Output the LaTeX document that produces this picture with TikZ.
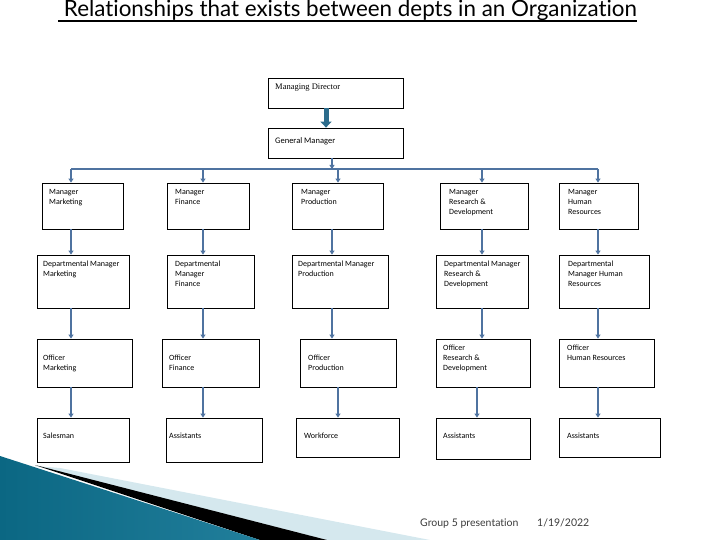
\documentclass[tikz,border=0pt]{standalone}
\usepackage{fontspec}
\usetikzlibrary{arrows.meta,shapes.geometric}
\newfontfamily\orgfam{Carlito}
\newfontfamily\titlefam[Ligatures=NoCommon]{Lato}
\newfontfamily\mdfam{Liberation Serif}
\newcommand\orgfont{\orgfam\fontsize{8bp}{10bp}\selectfont}
\definecolor{linkblue}{HTML}{4F73A0}
\definecolor{mdteal}{HTML}{2C6C8C}
\definecolor{tealdark}{HTML}{0B6783}
\definecolor{teallight}{HTML}{55B6D4}
\definecolor{bandlight}{HTML}{D5E8EE}
\definecolor{footgray}{HTML}{3A3A3A}
\tikzset{
  orgbox/.style={draw, line width=0.8bp, inner sep=0pt},
  boxtext/.style={font=\orgfont, align=left, anchor=north west, inner sep=0pt},
  link/.style={draw=linkblue, line width=1.6bp, -{Triangle[length=4bp,width=5bp]}},
  busline/.style={draw=linkblue, line width=1.6bp}
}
\begin{document}
\begin{tikzpicture}[x=1bp, y=-1bp]
\useasboundingbox (0,0) rectangle (720,540);

% corner decoration
\fill[bandlight] (35,466) -- (60,468) -- (430,540) -- (327,540) -- cycle;
\fill[black] (35,465) -- (327,540) -- (260,540) -- cycle;
\shade[left color=tealdark, middle color=teallight, right color=tealdark!70!teallight]
  (0,456) -- (260,540) -- (0,540) -- cycle;

% title
\node[font=\titlefam\fontsize{22.4bp}{26bp}\selectfont, anchor=base west, inner sep=0pt]
  (title) at (58,17) {\ Relationships that exists between depts in an Organization};
\draw[line width=1.5bp] ([yshift=-4bp]title.base west) -- ([yshift=-4bp]title.base east);

% top boxes
\node[orgbox, minimum width=135bp, minimum height=30bp] (md) at (335.5,93) {};
\node[boxtext, font=\mdfam\fontsize{8.5bp}{10bp}\selectfont] (tmd) at (275,84) {Managing Director};
\node[orgbox, minimum width=135bp, minimum height=30bp] (gm) at (335.5,143) {};
\node[boxtext, font=\orgfam\fontsize{8.5bp}{10bp}\selectfont] (tgm) at (275,137) {General Manager};

% managers
\node[orgbox, minimum width=81bp, minimum height=46bp] (mgrmkt) at (82.5,206) {};
\node[orgbox, minimum width=82bp, minimum height=46bp] (mgrfin) at (208,206) {};
\node[orgbox, minimum width=91bp, minimum height=46bp] (mgrprd) at (337.5,206) {};
\node[orgbox, minimum width=88bp, minimum height=46bp] (mgrrnd) at (484,206) {};
\node[orgbox, minimum width=79bp, minimum height=46bp] (mgrhr) at (598.5,206) {};
\node[boxtext] (tmgrmkt) at (49,189) {Manager\\Marketing};
\node[boxtext] (tmgrfin) at (175,189) {Manager\\Finance};
\node[boxtext] (tmgrprd) at (301,189) {Manager\\Production};
\node[boxtext] (tmgrrnd) at (449,189) {Manager\\Research \&\\Development};
\node[boxtext] (tmgrhr) at (568,189) {Manager\\Human\\Resources};

% departmental managers
\node[orgbox, minimum width=92bp, minimum height=53bp] (dmmkt) at (83,281.5) {};
\node[orgbox, minimum width=87bp, minimum height=53bp] (dmfin) at (210.5,281.5) {};
\node[orgbox, minimum width=96bp, minimum height=53bp] (dmprd) at (340,281.5) {};
\node[orgbox, minimum width=92bp, minimum height=53bp] (dmrnd) at (482,281.5) {};
\node[orgbox, minimum width=90bp, minimum height=53bp] (dmhr) at (604,281.5) {};
\node[boxtext] (tdmmkt) at (43,261) {Departmental Manager\\Marketing};
\node[boxtext] (tdmfin) at (175,261) {Departmental\\Manager\\Finance};
\node[boxtext] (tdmprd) at (298,261) {Departmental Manager\\Production};
\node[boxtext] (tdmrnd) at (444,261) {Departmental Manager\\Research \&\\Development};
\node[boxtext] (tdmhr) at (568,261) {Departmental\\Manager Human\\Resources};

% officers
\node[orgbox, minimum width=95bp, minimum height=48bp] (ofmkt) at (84.5,363) {};
\node[orgbox, minimum width=97bp, minimum height=48bp] (offin) at (210.5,363) {};
\node[orgbox, minimum width=96bp, minimum height=48bp] (ofprd) at (348,363) {};
\node[orgbox, minimum width=94bp, minimum height=48bp] (ofrnd) at (483,363) {};
\node[orgbox, minimum width=95bp, minimum height=48bp] (ofhr) at (606.5,363) {};
\node[boxtext] (tofmkt) at (43,355) {Officer\\Marketing};
\node[boxtext] (toffin) at (169,355) {Officer\\Finance};
\node[boxtext] (tofprd) at (308,355) {Officer\\Production};
\node[boxtext] (tofrnd) at (443,345) {Officer\\Research \&\\Development};
\node[boxtext] (tofhr) at (567,345) {Officer\\Human Resources};

% staff
\node[orgbox, minimum width=92bp, minimum height=44bp] (stmkt) at (83,440) {};
\node[orgbox, minimum width=96bp, minimum height=44bp] (stfin) at (214,440) {};
\node[orgbox, minimum width=103bp, minimum height=39bp] (stprd) at (347.5,437.5) {};
\node[orgbox, minimum width=94bp, minimum height=41bp] (strnd) at (483,438.5) {};
\node[orgbox, minimum width=101bp, minimum height=39bp] (sthr) at (609.5,437.5) {};
\node[boxtext] (tstmkt) at (43,433) {Salesman};
\node[boxtext] (tstfin) at (169,433) {Assistants};
\node[boxtext] (tstprd) at (304,433) {Workforce};
\node[boxtext] (tstrnd) at (443,433) {Assistants};
\node[boxtext] (tsthr) at (567,433) {Assistants};

% lanes
\coordinate (lnmd) at (326,0);
\coordinate (bus) at (332,169);
\coordinate (lnmkt) at (71,169);
\coordinate (lnfin) at (203,169);
\coordinate (lnprd) at (338,169);
\coordinate (lnprdb) at (332,169);
\coordinate (lnrnd) at (482,169);
\coordinate (lnrndb) at (477,169);
\coordinate (lnhr) at (598,169);

% connectors
\draw[mdteal, line width=5bp, -{Triangle[length=6bp,width=11bp]}] (lnmd |- md.south) -- (lnmd |- gm.north);
\draw[link] (bus |- gm.south) -- (bus);
\draw[busline] (lnmkt) -- (lnhr);
\foreach \c in {mkt,fin,prd,rnd,hr}
  \draw[link] (ln\c) -- (ln\c |- mgr\c.north);
\foreach \ln/\up/\dn in {
  mkt/mgrmkt/dmmkt, mkt/dmmkt/ofmkt, mkt/ofmkt/stmkt,
  fin/mgrfin/dmfin, fin/dmfin/offin, fin/offin/stfin,
  prdb/mgrprd/dmprd, prdb/dmprd/ofprd, prd/ofprd/stprd,
  rnd/mgrrnd/dmrnd, rnd/dmrnd/ofrnd, rndb/ofrnd/strnd,
  hr/mgrhr/dmhr, hr/dmhr/ofhr, hr/ofhr/sthr}
  \draw[link] (ln\ln |- \up.south) -- (ln\ln |- \dn.north);

% footer
\node[font=\titlefam\fontsize{10.5bp}{12bp}\selectfont, text=footgray, anchor=base west, inner sep=0pt]
  (group) at (420,526) {Group 5 presentation};
\node[font=\titlefam\fontsize{10.5bp}{12bp}\selectfont, text=footgray, anchor=base west, inner sep=0pt]
  (date) at (537,526) {1/19/2022};
\end{tikzpicture}
\end{document}
